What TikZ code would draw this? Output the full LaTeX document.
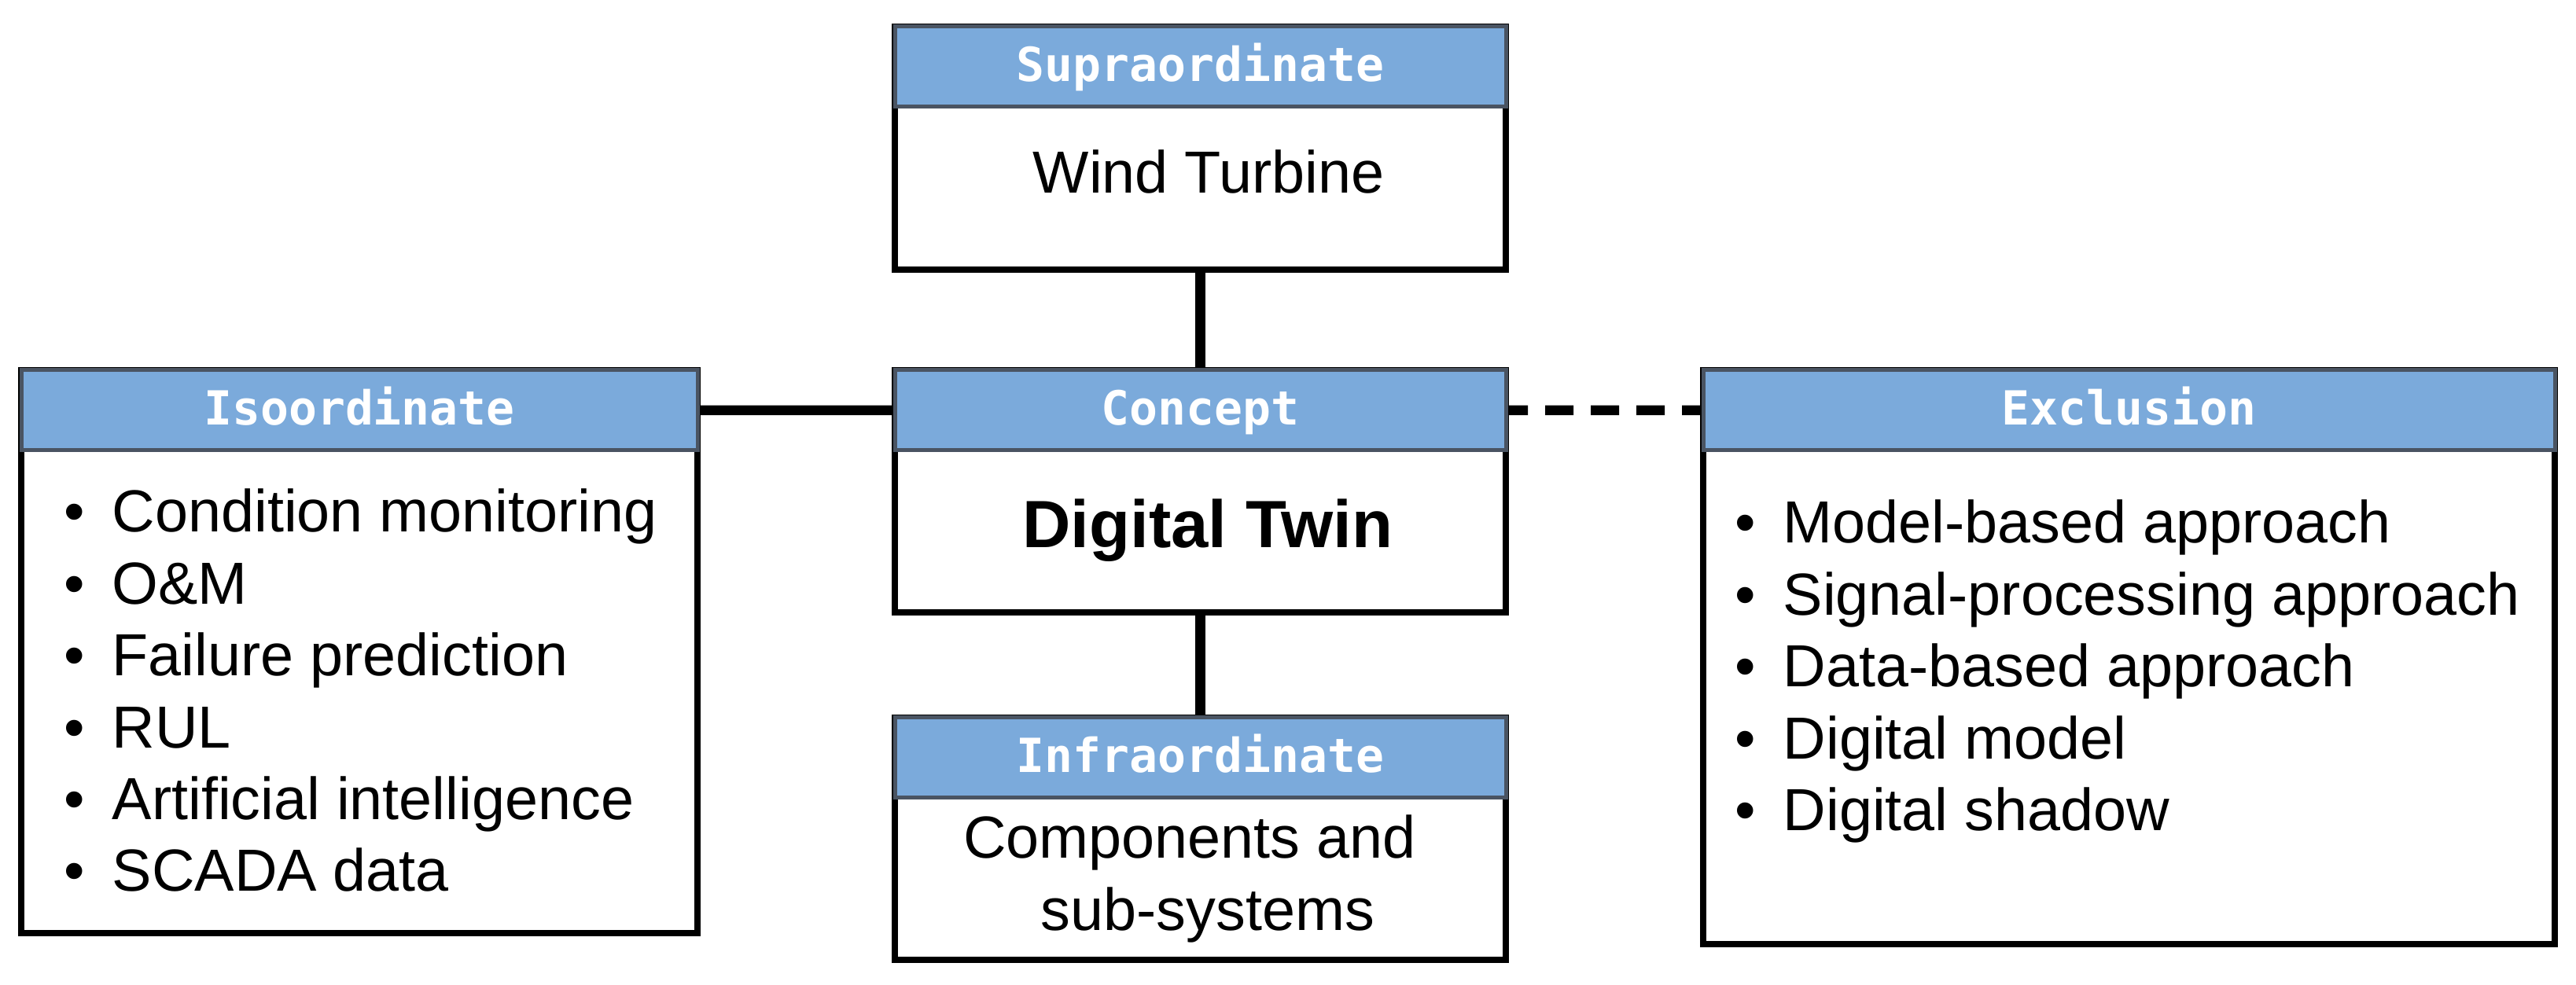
\documentclass[tikz,border=0pt]{standalone}
\usepackage{fontspec}
\setmainfont{Liberation Sans}
\newfontfamily\headfont{DejaVu Sans Mono}
\usetikzlibrary{backgrounds}

\definecolor{headblue}{RGB}{123,170,219}
\definecolor{headgray}{RGB}{74,84,98}

\newcommand{\bull}{\makebox[0.61cm][l]{\textbullet}}

\tikzset{
  box/.style={draw=black, fill=white, line width=0.08cm, outer sep=0pt, inner sep=0pt},
  head/.style={draw=headgray, fill=headblue, line width=0.05cm, outer sep=0pt, inner sep=0pt,
    minimum height=1.02cm, anchor=north, text=white, text height=0.5cm, text depth=0.12cm,
    font=\headfont\bfseries\fontsize{17}{20}\selectfont},
  body/.style={inner sep=0pt, anchor=base, font=\fontsize{21.5}{26.2}\selectfont},
  item/.style={body, anchor=base west},
  link/.style={line width=0.125cm},
}

\begin{document}
\begin{tikzpicture}
            \useasboundingbox (0,0) rectangle (32.76,12.53);

            % boxes
            \node[box, minimum width=7.77cm, minimum height=3.09cm] (supra) at (15.265,10.645) {};
            \node[box, minimum width=7.77cm, minimum height=3.08cm] (concept) at (15.265,6.28) {};
            \node[box, minimum width=7.77cm, minimum height=3.08cm] (infra) at (15.265,1.86) {};
            \node[box, minimum width=8.60cm, minimum height=7.16cm] (iso) at (4.57,4.24) {};
            \node[box, minimum width=10.83cm, minimum height=7.30cm] (excl) at (27.075,4.17) {};

            % headers
            \node[head, minimum width=7.77cm] (supraH) at (supra.north) {Supraordinate};
            \node[head, minimum width=7.77cm] (conceptH) at (concept.north) {Concept};
            \node[head, minimum width=7.77cm] (infraH) at (infra.north) {Infraordinate};
            \node[head, minimum width=8.60cm] (isoH) at (iso.north) {Isoordinate};
            \node[head, minimum width=10.83cm] (exclH) at (excl.north) {Exclusion};

            % contents
            \node[body] (wind) at (15.37,10.07) {Wind Turbine};
            \node[body, font=\bfseries\fontsize{24.2}{29}\selectfont] (twin) at (15.36,5.56) {Digital Twin};
            \node[body] (comp) at (15.13,1.61) {Components and};
            \node[body] (sub) at (15.36,0.69) {sub-systems};

            \foreach \txt [count=\i] in {Condition monitoring, O\&M, Failure prediction,
                    RUL, Artificial intelligence, SCADA data}{
                \node[item] (iso-\i) at (0.81,{5.76-0.914*(\i-1)}) {\bull\txt};
            }
            \foreach \txt [count=\i] in {Model-based approach, Signal-processing approach,
                    Data-based approach, Digital model, Digital shadow}{
                \node[item] (excl-\i) at (22.06,{5.62-0.914*(\i-1)}) {\bull\txt};
            }

            % links
            \begin{scope}[on background layer]
                \draw[link] (supra.south) -- (conceptH.north);
                \draw[link] (concept.south) -- (infraH.north);
                \draw[link] (isoH.east) -- (conceptH.west);
                \draw[link, dash pattern=on 0.36cm off 0.22cm, dash phase=0.08cm]
                    (conceptH.east) -- (exclH.west);
            \end{scope}
        \end{tikzpicture}
\end{document}
